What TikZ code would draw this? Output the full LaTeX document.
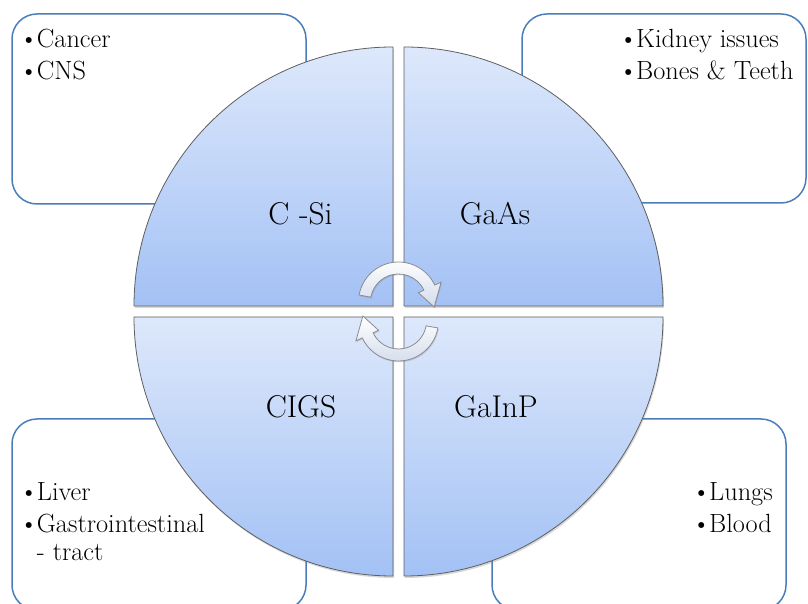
\documentclass[tikz,border=0pt]{standalone}
\usetikzlibrary{shadows}
\definecolor{boxblue}{HTML}{4A7EBB}
\definecolor{qtop}{HTML}{DDE8FB}
\definecolor{qbot}{HTML}{A3C1F5}
\definecolor{qline}{HTML}{5F5F5F}
\definecolor{arrline}{HTML}{8C8C8C}
\definecolor{arrbot}{HTML}{D3DCEC}
\newcommand\bul{\llap{\textbullet\hspace{-1.5pt}}}
\begin{document}
\begin{tikzpicture}[x=1pt,y=1pt,
  infobox/.style={draw=boxblue, line width=1.5pt, fill=white, rounded corners=25pt},
  quad/.style={draw=qline, line width=0.8pt, top color=qtop, bottom color=qbot,
    drop shadow={shadow xshift=1pt, shadow yshift=-2pt, opacity=0.3}},
  itemtext/.style={anchor=base west, inner sep=0pt, font=\fontsize{26.3}{30}\selectfont},
  qlabel/.style={anchor=base, inner sep=0pt, font=\fontsize{31.5}{36}\selectfont},
  cyc/.style={draw=arrline, line width=0.8pt, top color=white, bottom color=arrbot,
    drop shadow={shadow xshift=0.8pt, shadow yshift=-1.2pt, opacity=0.3}}
]
\useasboundingbox (0,0) rectangle (808,604);
\fill[white] (0,0) rectangle (808,604);
% corner boxes
\begin{scope}
\clip (0,0) rectangle (808,604);
\draw[infobox] (12,400) rectangle (306,590);
\draw[infobox] (522,401) rectangle (806,590);
\draw[infobox] (12,-6) rectangle (306,185);
\draw[infobox] (492,-6) rectangle (786,185);
\end{scope}
% box texts
\node[itemtext] (t1) at (36.7,556) {\bul Cancer};
\node[itemtext] (t2) at (36.7,524) {\bul CNS};
\node[itemtext] (t3) at (636,556) {\bul Kidney issues};
\node[itemtext] (t4) at (636,524) {\bul Bones \& Teeth};
\node[itemtext] (t5) at (36.7,103) {\bul Liver};
\node[itemtext] (t6) at (36.7,71) {\bul Gastrointestinal};
\node[itemtext] (t7) at (36.7,43) {- tract};
\node[itemtext] (t8) at (709,103) {\bul Lungs};
\node[itemtext] (t9) at (709,71) {\bul Blood};
% quadrants
\path[quad] (393,298) -- (134,298) arc[start angle=180, end angle=90, radius=259] -- cycle;
\path[quad] (404,298) -- (404,557) arc[start angle=90, end angle=0, radius=259] -- cycle;
\path[quad] (393,287) -- (134,287) arc[start angle=180, end angle=270, radius=259] -- cycle;
\path[quad] (404,287) -- (663,287) arc[start angle=0, end angle=-90, radius=259] -- cycle;
% labels
\node[qlabel] (csi) at (300.5,379) {C -Si};
\node[qlabel] (gaas) at (495,379) {GaAs};
\node[qlabel] (cigs) at (301,186) {CIGS};
\node[qlabel] (gainp) at (496,186) {GaInP};
% circular arrows
\begin{scope}[shift={(398.5,302)}]
\path[cyc] (170:40) arc[start angle=170, end angle=25, radius=40] -- (25:47) -- (-8:36) -- (25:22) -- (25:28) arc[start angle=25, end angle=170, radius=28] -- cycle;
\end{scope}
\begin{scope}[shift={(398.5,283)}, rotate=180]
\path[cyc] (170:40) arc[start angle=170, end angle=25, radius=40] -- (25:47) -- (-8:36) -- (25:22) -- (25:28) arc[start angle=25, end angle=170, radius=28] -- cycle;
\end{scope}
\end{tikzpicture}
\end{document}
